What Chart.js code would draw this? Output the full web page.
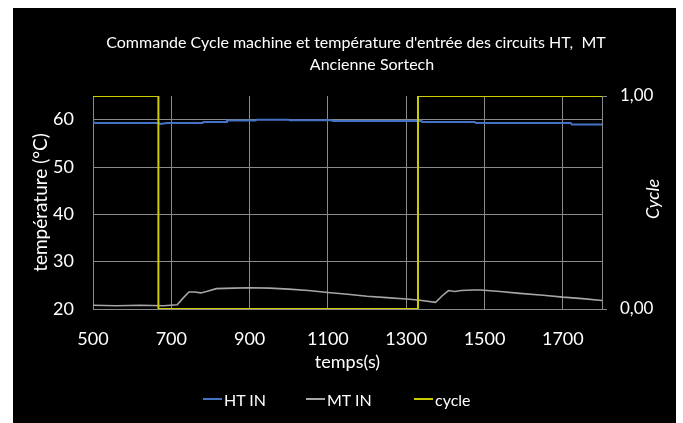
<!DOCTYPE html>
<html>
<head>
<meta charset="utf-8">
<script src="https://cdn.jsdelivr.net/npm/chart.js@4.4.1/dist/chart.umd.min.js"></script>
<style>
    html, body { margin: 0; padding: 0; background: #fff; }
    #frame { position: absolute; left: 13px; top: 8px; width: 663px; height: 415px; background: #000; overflow: hidden; }
    #chart { position: absolute; left: 0; top: 0; }
    #legend { position: absolute; left: 0; top: 381px; width: 663px; height: 20px; font: 16px Lato, sans-serif; color: #fff; }
    .legend-item { position: absolute; top: 0; height: 20px; display: flex; align-items: center; white-space: nowrap; }
    .legend-line { display: inline-block; width: 19px; height: 2px; margin-right: 2px; }
</style>
</head>
<body>
<div id="frame">
    <canvas id="chart" width="663" height="415"></canvas>
    <div id="legend"></div>
</div>
<script>
// Titles
const titleLines = ["Commande Cycle machine et température d'entrée des circuits HT,  MT", 'Ancienne Sortech'];

// HT IN inlet temperature (°C) vs time (s)
const htTimes  = [500, 505, 668, 672, 690, 780, 782, 840, 842, 915, 918, 1000, 1003, 1110, 1113, 1336, 1338, 1341, 1475, 1478, 1720, 1723, 1800];
const htValues = [59.6, 59.3, 59.3, 59.1, 59.3, 59.3, 59.5, 59.5, 59.8, 59.8, 60.0, 60.0, 59.9, 59.9, 59.7, 59.7, 59.9, 59.5, 59.5, 59.3, 59.3, 59.0, 59.0];

// MT IN inlet temperature (°C) vs time (s)
const mtTimes  = [500, 560, 620, 680, 715, 730, 745, 760, 775, 790, 815, 860, 900, 950, 1000, 1050, 1100, 1150, 1200, 1250, 1300, 1330, 1375, 1392, 1408, 1424, 1440, 1470, 1490, 1540, 1590, 1650, 1700, 1750, 1800];
const mtValues = [20.8, 20.7, 20.8, 20.7, 20.9, 22.3, 23.6, 23.6, 23.4, 23.7, 24.3, 24.4, 24.5, 24.4, 24.2, 23.9, 23.5, 23.1, 22.7, 22.4, 22.1, 21.9, 21.4, 22.8, 23.9, 23.7, 23.9, 24.0, 24.0, 23.7, 23.3, 22.9, 22.5, 22.2, 21.8];

// machine cycle command (0/1) vs time (s)
const cycleTimes  = [500, 667, 667, 1330, 1330, 1800];
const cycleValues = [1, 1, 0, 0, 1, 1];

// axis ticks
const timeTicks = [500, 700, 900, 1100, 1300, 1500, 1700];
const tempTicks = [20, 30, 40, 50, 60];
const cycleTicks = [0, 1];

const seriesNames = ['HT IN', 'MT IN', 'cycle'];
const seriesColors = ['#4472c4', '#a6a6a6', '#cccc00'];

const gridColor = '#8a8a8a';
const tickFont = { family: 'Lato, sans-serif', size: 18 };

function toPoints(xs, ys) {
    return xs.map((x, i) => ({ x: x, y: ys[i] }));
}

// Plugin: chart title lines and the secondary axis caption
const frameText = {
    id: 'frameText',
    afterDraw(chart) {
        const ctx = chart.ctx;
        ctx.save();
        ctx.fillStyle = '#fff';
        ctx.textAlign = 'center';
        ctx.textBaseline = 'middle';
        ctx.font = '16px Lato, sans-serif';
        ctx.fillText(titleLines[0], 343, 35);
        ctx.fillText(titleLines[1], 359, 57);
        ctx.translate(640, 191);
        ctx.rotate(-Math.PI / 2);
        ctx.font = 'italic 18px Lato, sans-serif';
        ctx.fillText('Cycle', 0, 0);
        ctx.restore();
    }
};

new Chart(document.getElementById('chart').getContext('2d'), {
    type: 'line',
    data: {
        datasets: [
            {
                label: seriesNames[0],
                data: toPoints(htTimes, htValues),
                borderColor: seriesColors[0],
                borderWidth: 2,
                yAxisID: 'y',
                order: 2
            },
            {
                label: seriesNames[1],
                data: toPoints(mtTimes, mtValues),
                borderColor: seriesColors[1],
                borderWidth: 1.6,
                yAxisID: 'y',
                order: 3
            },
            {
                label: seriesNames[2],
                data: toPoints(cycleTimes, cycleValues),
                borderColor: seriesColors[2],
                borderWidth: 2,
                yAxisID: 'y2',
                order: 1
            }
        ]
    },
    options: {
        responsive: false,
        animation: false,
        devicePixelRatio: 1,
        elements: {
            point: { radius: 0 },
            line: { tension: 0, fill: false }
        },
        layout: {
            padding: { top: 88, left: 0, right: 0, bottom: 50 }
        },
        plugins: {
            legend: { display: false },
            title: { display: false },
            tooltip: { enabled: false }
        },
        scales: {
            x: {
                type: 'linear',
                min: 500,
                max: 1800,
                afterBuildTicks: function(scale) {
                    scale.ticks = timeTicks.map(v => ({ value: v }));
                },
                afterFit: function(scale) { scale.height = 64; },
                grid: { color: gridColor, lineWidth: 1, drawTicks: false },
                border: { display: true, color: gridColor, width: 1 },
                ticks: {
                    color: '#fff',
                    font: tickFont,
                    padding: 19,
                    maxRotation: 0,
                    callback: function(value) { return String(value); }
                },
                title: {
                    display: true,
                    text: 'temps(s)',
                    color: '#fff',
                    font: { family: 'Lato, sans-serif', size: 18 },
                    padding: { top: 0, bottom: 0 }
                }
            },
            y: {
                position: 'left',
                min: 20,
                max: 65,
                afterBuildTicks: function(scale) {
                    scale.ticks = tempTicks.map(v => ({ value: v }));
                },
                afterFit: function(scale) { scale.width = 80; },
                grid: { color: gridColor, lineWidth: 1, drawTicks: false },
                border: { display: true, color: gridColor, width: 1 },
                ticks: { color: '#fff', font: tickFont, padding: 19 },
                title: {
                    display: true,
                    text: 'température (°C)',
                    color: '#fff',
                    font: { family: 'Lato, sans-serif', size: 19 },
                    padding: { top: 16, bottom: 0 }
                }
            },
            y2: {
                position: 'right',
                min: 0,
                max: 1,
                afterBuildTicks: function(scale) {
                    scale.ticks = cycleTicks.map(v => ({ value: v }));
                },
                afterFit: function(scale) { scale.width = 74; },
                grid: { color: gridColor, lineWidth: 1, drawOnChartArea: false, drawTicks: true, tickLength: 5 },
                border: { display: true, color: gridColor, width: 1 },
                ticks: {
                    color: '#fff',
                    font: { family: 'Lato, sans-serif', size: 17 },
                    padding: 13,
                    callback: function(value) {
                        return value.toFixed(2).replace('.', ',');
                    }
                }
            }
        }
    },
    plugins: [frameText]
});

// HTML legend: short line sample followed by the series name
const legend = document.getElementById('legend');
const legendLeft = [190, 293, 401];
seriesNames.forEach((name, i) => {
    const item = document.createElement('span');
    item.className = 'legend-item';
    item.style.left = legendLeft[i] + 'px';
    const line = document.createElement('span');
    line.className = 'legend-line';
    line.style.backgroundColor = seriesColors[i];
    const text = document.createElement('span');
    text.textContent = name;
    item.appendChild(line);
    item.appendChild(text);
    legend.appendChild(item);
});
</script>
</body>
</html>
